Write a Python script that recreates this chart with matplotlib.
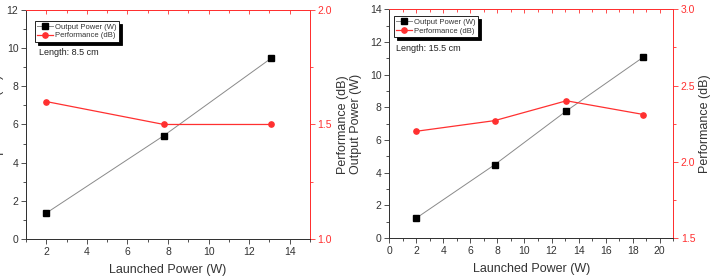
import matplotlib
matplotlib.use("Agg")
import matplotlib.pyplot as plt
from matplotlib.ticker import MultipleLocator

plt.rcParams["font.family"] = ["Liberation Sans", "DejaVu Sans"]

# ---------- data ----------
launched_a = [2, 7.8, 13.1]
output_a = [1.36, 5.42, 9.48]
perf_a = [1.6, 1.5, 1.5]

launched_b = [2, 7.8, 13.1, 18.8]
output_b = [1.22, 4.49, 7.78, 11.08]
perf_b = [2.20, 2.27, 2.40, 2.31]

RED = "#ff3030"
INK = "#333333"
GRAY_LINE = "#8a8a8a"


def panel(fig, rect, x, out, perf, xlim, xticks, ylim, y2lim, y2ticks, length,
          leg_anchor, txt_xy, ylab_x, y2lab_x):
    ax = fig.add_axes(rect)
    l1, = ax.plot(x, out, color=GRAY_LINE, lw=0.7, marker="s", ms=3.8,
                  mfc="black", mec="black", zorder=3)
    ax.set_xlim(*xlim)
    ax.set_ylim(*ylim)
    ax.set_xticks(xticks)
    ax.xaxis.set_minor_locator(MultipleLocator(1))
    ax.yaxis.set_major_locator(MultipleLocator(2))
    ax.yaxis.set_minor_locator(MultipleLocator(1))
    ax.tick_params(axis="both", which="major", labelsize=7.5, length=3.5, width=0.6,
                   direction="out", pad=2, colors=INK)
    ax.tick_params(axis="both", which="minor", length=2, width=0.6, direction="out",
                   colors=INK)
    ax.tick_params(axis="x", which="both", top=False)
    ax.set_xlabel("Launched Power (W)", fontsize=9, color=INK, labelpad=5)
    ax.set_ylabel("Output Power (W)", fontsize=9, color=INK)
    ax.yaxis.set_label_coords(ylab_x, 0.5)

    ax2 = ax.twinx()
    l2, = ax2.plot(x, perf, color=RED, lw=0.9, marker="o", ms=3.8,
                   mfc=RED, mec=RED, zorder=3)
    ax2.set_ylim(*y2lim)
    ax2.set_yticks(y2ticks)
    ax2.yaxis.set_minor_locator(MultipleLocator(0.25))
    ax2.tick_params(axis="y", which="major", labelsize=7.5, length=3.5, width=0.6,
                    direction="out", colors=RED, pad=2)
    ax2.tick_params(axis="y", which="minor", length=2, width=0.6,
                    direction="out", colors=RED)
    ax2.set_ylabel("Performance (dB)", fontsize=9, color=INK)
    ax2.yaxis.set_label_coords(y2lab_x, 0.5)

    for a in (ax, ax2):
        for sp in a.spines.values():
            sp.set_linewidth(0.7)
        a.spines["left"].set_color(INK)
        a.spines["bottom"].set_color(INK)
        a.spines["right"].set_color(RED)
        a.spines["top"].set_color(RED)

    # top axis: red with inward ticks
    sec = ax.secondary_xaxis("top")
    sec.set_xticks(xticks)
    sec.xaxis.set_minor_locator(MultipleLocator(1))
    sec.tick_params(axis="x", which="both", direction="in", colors=RED,
                    labeltop=False, length=3, width=0.6)
    sec.tick_params(axis="x", which="minor", length=2)
    sec.spines["top"].set_color(RED)
    sec.spines["top"].set_linewidth(0.7)

    leg = ax.legend([l1, l2], ["Output Power (W)", "Performance (dB)"],
                    loc="upper left", bbox_to_anchor=leg_anchor, fontsize=5.5,
                    frameon=True, fancybox=False, shadow={"color": "black", "alpha": 1},
                    edgecolor="black", numpoints=1, handlelength=2.0,
                    handletextpad=0.3, borderpad=0.3, labelspacing=0.2,
                    borderaxespad=0)
    leg.get_frame().set_linewidth(0.6)
    for t in leg.get_texts():
        t.set_color(INK)
    ax.text(txt_xy[0], txt_xy[1], f"Length: {length}", transform=ax.transAxes,
            fontsize=6.5, color="#222222", ha="left", va="center")
    return ax, ax2


fig = plt.figure(figsize=(7.11, 2.76), dpi=100)
fig.patch.set_facecolor("white")

panel(fig, [0.0366, 0.134, 0.3994, 0.830], launched_a, output_a, perf_a,
      (1, 15), [2, 4, 6, 8, 10, 12, 14], (0, 12), (1.0, 2.0), [1.0, 1.5, 2.0],
      "8.5 cm", (0.032, 0.952), (0.045, 0.815), -0.076, 1.095)

panel(fig, [0.5475, 0.1377, 0.3994, 0.8286], launched_b, output_b, perf_b,
      (0, 21), [0, 2, 4, 6, 8, 10, 12, 14, 16, 18, 20], (0, 14), (1.5, 3.0),
      [1.5, 2.0, 2.5, 3.0], "15.5 cm", (0.017, 0.97), (0.023, 0.83), -0.096, 1.09)

fig.savefig("out.png", dpi=100, facecolor="white")
